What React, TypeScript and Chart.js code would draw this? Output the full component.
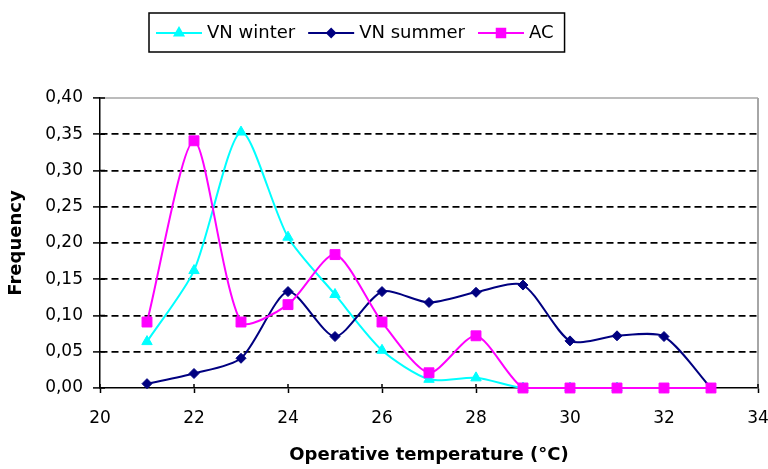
import React, { useEffect, useRef } from 'react';
import { Chart, registerables } from 'chart.js';
import { drawPoint } from 'chart.js/helpers';

Chart.register(...registerables);

// ---- data ----
const temperatures = [21, 22, 23, 24, 25, 26, 27, 28, 29, 30, 31, 32, 33];
const vnWinter = [0.064, 0.162, 0.353, 0.208, 0.129, 0.052, 0.012, 0.014, 0.0, 0.0, 0.0];
const vnSummer = [0.006, 0.02, 0.041, 0.133, 0.071, 0.133, 0.118, 0.132, 0.142, 0.065, 0.072, 0.071, 0.0];
const acValues = [0.091, 0.341, 0.091, 0.115, 0.184, 0.091, 0.021, 0.072, 0.0, 0.0, 0.0, 0.0, 0.0];
const seriesNames = ['VN winter', 'VN summer', 'AC'];
const xMin = 20;
const xMax = 34;
const xStep = 2;
const yMin = 0;
const yMax = 0.4;
const yStep = 0.05;
const xTitle = 'Operative temperature (°C)';
const yTitle = 'Frequency';

const FONT = "'DejaVu Sans', sans-serif";

const styles = [
  { color: '#00FFFF', pointStyle: 'triangle', radius: 6, order: 3 },
  { color: '#000080', pointStyle: 'rectRot', radius: 5, order: 2 },
  { color: '#FF00FF', pointStyle: 'rect', radius: 7, order: 1 },
];

const toPoints = (vals: number[]) => vals.map((v, i) => ({ x: temperatures[i], y: v }));

const framePlugin = {
  id: 'frame',
  beforeDatasetsDraw(chart: any) {
    const { ctx, chartArea } = chart;
    const { left, right, top, bottom } = chartArea;
    ctx.save();
    ctx.strokeStyle = '#a6a6a6';
    ctx.lineWidth = 1.5;
    ctx.beginPath();
    ctx.moveTo(left, top);
    ctx.lineTo(right, top);
    ctx.stroke();
    ctx.lineWidth = 2;
    ctx.beginPath();
    ctx.moveTo(right, top);
    ctx.lineTo(right, bottom);
    ctx.stroke();
    // inward tick marks
    ctx.strokeStyle = '#000';
    ctx.lineWidth = 1.5;
    const ys = chart.scales.y;
    ys.ticks.forEach((t: any) => {
      const py = ys.getPixelForValue(t.value);
      ctx.beginPath();
      ctx.moveTo(left, py);
      ctx.lineTo(left + 5, py);
      ctx.stroke();
    });
    const xs = chart.scales.x;
    xs.ticks.forEach((t: any) => {
      const px = xs.getPixelForValue(t.value);
      ctx.beginPath();
      ctx.moveTo(px, bottom);
      ctx.lineTo(px, bottom - 4);
      ctx.stroke();
    });
    ctx.restore();
  },
  afterDraw(chart: any) {
    const { ctx } = chart;
    ctx.save();
    ctx.font = `18px ${FONT}`;
    ctx.textBaseline = 'middle';
    const boxLeft = 149;
    const boxTop = 13;
    const boxHeight = 39;
    const cy = boxTop + boxHeight / 2 + 0.5;
    let x = 156;
    const lineLen = 46;
    seriesNames.forEach((name, i) => {
      const s = styles[i];
      ctx.strokeStyle = s.color;
      ctx.fillStyle = s.color;
      ctx.lineWidth = 2;
      ctx.beginPath();
      ctx.moveTo(x, cy);
      ctx.lineTo(x + lineLen, cy);
      ctx.stroke();
      drawPoint(ctx, { pointStyle: s.pointStyle, radius: s.radius - 1, rotation: 0, borderWidth: 1 } as any, x + lineLen / 2, cy);
      ctx.fillStyle = '#000';
      ctx.fillText(name, x + lineLen + 5, cy);
      x += lineLen + 5 + ctx.measureText(name).width + 13;
    });
    const boxRight = x - 13 + 11;
    ctx.strokeStyle = '#000';
    ctx.lineWidth = 1.5;
    ctx.strokeRect(boxLeft, boxTop, boxRight - boxLeft, boxHeight);
    ctx.restore();
  },
};

export default function App() {
  const ref = useRef<HTMLCanvasElement>(null);
  useEffect(() => {
    if (!ref.current) return;
    const series = [vnWinter, vnSummer, acValues];
    const chart = new Chart(ref.current, {
      type: 'line',
      data: {
        datasets: series.map((vals, i) => ({
          label: seriesNames[i],
          data: toPoints(vals),
          borderColor: styles[i].color,
          backgroundColor: styles[i].color,
          pointBackgroundColor: styles[i].color,
          pointBorderColor: styles[i].color,
          pointStyle: styles[i].pointStyle as any,
          pointRadius: styles[i].radius,
          pointBorderWidth: 1,
          borderWidth: 2,
          tension: 0.25,
          fill: false,
          clip: false as any,
          order: styles[i].order,
        })),
      },
      options: {
        animation: false,
        responsive: false,
        events: [],
        layout: { padding: { top: 98, right: 10, bottom: 0, left: 0 } },
        plugins: {
          legend: { display: false },
          tooltip: { enabled: false },
        },
        scales: {
          x: {
            type: 'linear',
            min: xMin,
            max: xMax,
            afterFit: (s: any) => {
              s.height = 81;
              s.paddingLeft = 0;
              s.paddingRight = 0;
            },
            ticks: {
              stepSize: xStep,
              color: '#000',
              font: { family: FONT, size: 17 },
              padding: 15,
              maxRotation: 0,
            },
            grid: {
              drawOnChartArea: false,
              drawTicks: true,
              tickLength: 5,
              tickColor: '#000',
              tickWidth: 1.5,
            },
            border: { color: '#000', width: 1.5 },
            title: {
              display: true,
              text: xTitle,
              color: '#000',
              font: { family: FONT, size: 18, weight: 'bold' },
              padding: { top: 0, bottom: 3 },
            },
          },
          y: {
            type: 'linear',
            min: yMin,
            max: yMax,
            afterFit: (s: any) => { s.width = 100; },
            ticks: {
              stepSize: yStep,
              color: '#000',
              font: { family: FONT, size: 17 },
              padding: 10,
              callback: (v: any) => Number(v).toFixed(2).replace('.', ','),
            },
            grid: {
              color: (c: any) => {
                const v = c.tick ? c.tick.value : 0;
                return v <= 1e-9 || v >= yMax - 1e-9 ? 'rgba(0,0,0,0)' : '#000';
              },
              lineWidth: 1.8,
              drawTicks: true,
              tickLength: 7,
              tickColor: '#000',
              tickWidth: 1.5,
            },
            border: { color: '#000', width: 1.5, dash: [7, 4] },
            title: {
              display: true,
              text: yTitle,
              color: '#000',
              font: { family: FONT, size: 18, weight: 'bold' },
              padding: { top: 6, bottom: 0 },
            },
          },
        },
      },
      plugins: [framePlugin],
    });
    return () => chart.destroy();
  }, []);
  return (
    <div style={{ position: 'fixed', left: 0, top: 0, width: 768, height: 469, background: '#fff' }}>
      <canvas ref={ref} width={768} height={469} style={{ display: 'block' }} />
    </div>
  );
}
